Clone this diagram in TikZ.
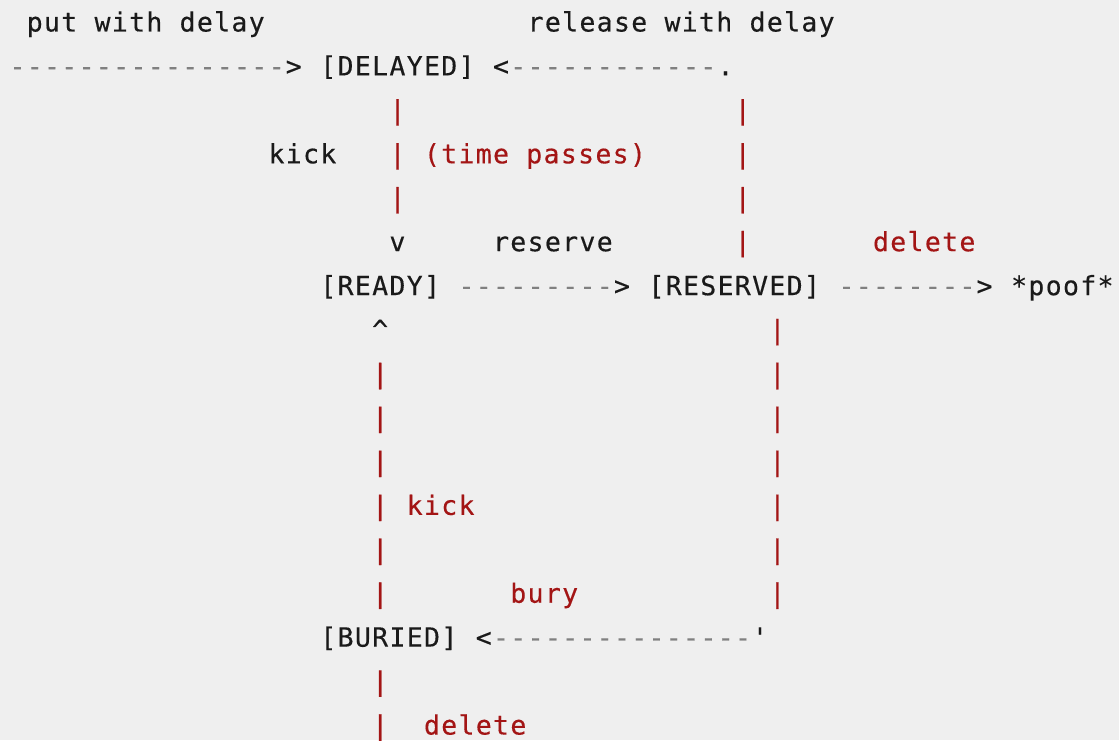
\documentclass[tikz,border=0pt]{standalone}
\usepackage{fontspec}
\newfontfamily\asciimono{DejaVu Sans Mono}[LetterSpace=5.0, FakeBold=0.3]
\definecolor{bgc}{HTML}{EFEFEF}
\definecolor{ink}{HTML}{1A1A1A}
\definecolor{redc}{HTML}{A31515}
\definecolor{dashc}{HTML}{808080}
\begin{document}
\begin{tikzpicture}[x=1pt,y=1pt,
  txt/.style={anchor=base west, inner sep=0pt, outer sep=0pt,
    font=\fontsize{26.5pt}{32pt}\asciimono},
  kk/.style={txt, text=ink},
  rr/.style={txt, text=redc},
  gg/.style={txt, text=dashc},
  c/.style 2 args={at={({9.5+17.27*(#1)},{708.5-43.94*(#2-1)})}}]
\fill[bgc] (0,0) rectangle (1119,740);
\useasboundingbox (0,0) rectangle (1119,740);
% line 1
\node[kk, c={1}{1}] (lputd) {put with delay};
\node[kk, c={30}{1}] (lreld) {release with delay};
% line 2
\node[gg, c={0}{2}] (d2a) {----------------};
\node[kk, c={16}{2}] (h2a) {>};
\node[kk, c={18}{2}] (delayed) {[DELAYED]};
\node[kk, c={28}{2}] (h2b) {<};
\node[gg, c={29}{2}] (d2b) {------------};
\node[kk, c={41}{2}] (dot2) {.};
% line 3
\node[rr, c={22}{3}] (p3a) {|};
\node[rr, c={42}{3}] (p3b) {|};
% line 4
\node[kk, c={15}{4}] (kick1) {kick};
\node[rr, c={22}{4}] (p4a) {|};
\node[rr, c={24}{4}] (time) {(time passes)};
\node[rr, c={42}{4}] (p4b) {|};
% line 5
\node[rr, c={22}{5}] (p5a) {|};
\node[rr, c={42}{5}] (p5b) {|};
% line 6
\node[kk, c={22}{6}] (v6) {v};
\node[kk, c={28}{6}] (reserve) {reserve};
\node[rr, c={42}{6}] (p6b) {|};
\node[rr, c={50}{6}] (delete1) {delete};
% line 7
\node[kk, c={18}{7}] (ready) {[READY]};
\node[gg, c={26}{7}] (d7a) {---------};
\node[kk, c={35}{7}] (h7a) {>};
\node[kk, c={37}{7}] (reserved) {[RESERVED]};
\node[gg, c={48}{7}] (d7b) {--------};
\node[kk, c={56}{7}] (h7b) {>};
\node[kk, c={58}{7}] (poof) {*poof*};
% line 8
\node[kk, c={21}{8}] (up8) {\textasciicircum};
\node[rr, c={44}{8}] (p8b) {|};
% lines 9-11
\node[rr, c={21}{9}] (p9a) {|};
\node[rr, c={44}{9}] (p9b) {|};
\node[rr, c={21}{10}] (p10a) {|};
\node[rr, c={44}{10}] (p10b) {|};
\node[rr, c={21}{11}] (p11a) {|};
\node[rr, c={44}{11}] (p11b) {|};
% line 12
\node[rr, c={21}{12}] (p12a) {|};
\node[rr, c={23}{12}] (kick2) {kick};
\node[rr, c={44}{12}] (p12b) {|};
% line 13
\node[rr, c={21}{13}] (p13a) {|};
\node[rr, c={44}{13}] (p13b) {|};
% line 14
\node[rr, c={21}{14}] (p14a) {|};
\node[rr, c={29}{14}] (bury) {bury};
\node[rr, c={44}{14}] (p14b) {|};
% line 15
\node[kk, c={18}{15}] (buried) {[BURIED]};
\node[kk, c={27}{15}] (h15) {<};
\node[gg, c={28}{15}] (d15) {---------------};
\node[kk, c={43}{15}] (q15) {'};
% line 16
\node[rr, c={21}{16}] (p16a) {|};
% line 17
\node[rr, c={21}{17}] (p17a) {|};
\node[rr, c={24}{17}] (delete2) {delete};
\end{tikzpicture}
\end{document}
